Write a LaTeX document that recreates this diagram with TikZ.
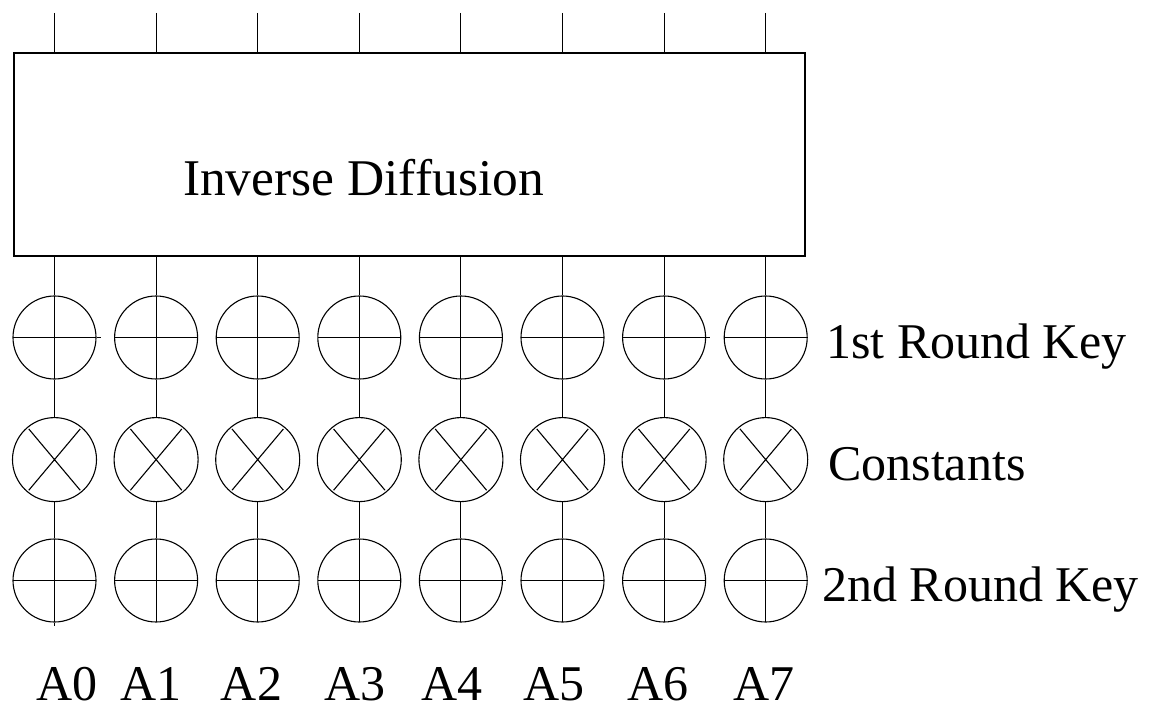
\documentclass[tikz,border=0pt]{standalone}
\usepackage{fontspec}
\setmainfont{Liberation Serif}
\begin{document}
\begin{tikzpicture}[x=1pt,y=-1pt,
  wire/.style={line width=1.1pt},
  xorop/.style={circle, draw, line width=1.1pt, minimum size=83pt, inner sep=0pt,
    path picture={\draw[line width=1.1pt]
      (path picture bounding box.north) -- (path picture bounding box.south)
      (path picture bounding box.west) -- (path picture bounding box.east);}},
  mulop/.style={circle, draw, line width=1.1pt, minimum size=84pt, inner sep=0pt,
    path picture={\draw[line width=1.1pt]
      (path picture bounding box.center) +(50:40) -- +(230:40)
      (path picture bounding box.center) +(130:40) -- +(310:40);}},
  lbl/.style={inner sep=0pt, font=\fontsize{50}{60}\selectfont},
  collbl/.style={lbl, text depth=0pt, anchor=base},
  blk/.style={draw, line width=1.1pt, inner sep=0pt}
]
\useasboundingbox (0,0) rectangle (1161,708);

\node[blk, minimum width=791pt, minimum height=203pt] (box) at (409.5,154.5) {};
\node[lbl, anchor=base, font=\fontsize{51.5}{60}\selectfont] (title) at (363.5,196) {Inverse Diffusion};

\foreach \i in {0,...,7} {
  \pgfmathsetmacro{\cx}{54.5+101.6*\i}
  \coordinate (t\i) at (\cx,13);
  \node[xorop] (k\i) at (\cx,337.5) {};
  \node[mulop] (m\i) at (\cx,459.6) {};
  \node[xorop] (r\i) at (\cx,580.5) {};
  \draw[wire] (t\i) -- (t\i |- box.north);
  \draw[wire] (k\i.north |- box.south) -- (k\i.north);
  \draw[wire] (k\i.south) -- (m\i.north);
  \draw[wire] (m\i.south) -- (r\i.north);
}
\coordinate (tail0) at (54.5,626);
\draw[wire] (r0.south) -- (tail0);
\draw[wire] (k0.east) -- ++(4,0);
\draw[wire] (k6.east) -- ++(4,0);
\draw[wire] (r4.east) -- ++(3,0);

\node[lbl, anchor=base west] (lk1) at (826,358) {1st Round Key};
\node[lbl, anchor=base west] (lc) at (828,480) {Constants};
\node[lbl, anchor=base west] (lk2) at (822,601) {2nd Round Key};

\node[collbl] (a0) at (67,700) {A0};
\node[collbl] (a1) at (151,700) {A1};
\node[collbl] (a2) at (251.5,700) {A2};
\node[collbl] (a3) at (355,700) {A3};
\node[collbl] (a4) at (452,700) {A4};
\node[collbl] (a5) at (554,700) {A5};
\node[collbl] (a6) at (658,700) {A6};
\node[collbl] (a7) at (764,700) {A7};
\end{tikzpicture}
\end{document}
